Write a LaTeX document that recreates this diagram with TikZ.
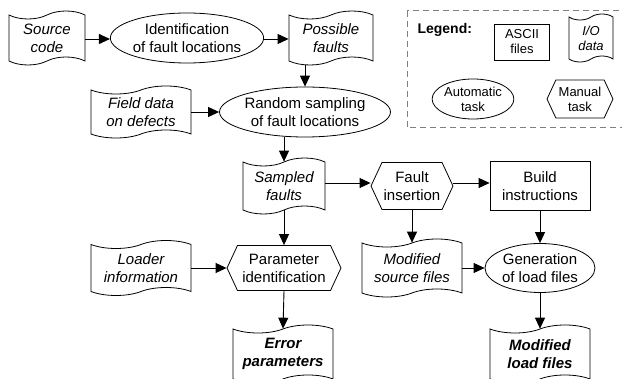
\documentclass[tikz,border=0pt]{standalone}
\usepackage{fontspec}
\setmainfont{Liberation Sans}
\usetikzlibrary{shapes.geometric,shapes.symbols,arrows.meta}
\begin{document}
\begin{tikzpicture}[x=1pt,y=-1pt,
  base/.style={draw, line width=0.8pt, align=center, inner sep=0pt, font=\fontsize{15}{18}\selectfont},
  doc/.style={base, tape, tape bend top=in and out, tape bend bottom=in and out, tape bend height=8pt, font=\fontsize{15}{18}\selectfont\itshape},
  outdoc/.style={doc, font=\fontsize{15}{18}\selectfont\bfseries\itshape},
  autotask/.style={base, ellipse},
  manualtask/.style={base, signal, signal to=west and east, signal from=nowhere, signal pointer angle=130},
  asciibox/.style={base, rectangle},
  legfont/.style={font=\fontsize{13}{15}\selectfont},
  arr/.style={-{Triangle[length=11pt,width=10pt]}, line width=0.9pt},
]
\useasboundingbox (0,0) rectangle (622,379);

% legend
\draw[gray, line width=1pt, dash pattern=on 6pt off 4pt] (407,11) rectangle (626,128);
\node[anchor=west, font=\fontsize{14}{16}\selectfont\bfseries] (leg) at (414,30) {Legend:};
\node[asciibox, legfont, minimum width=55pt, minimum height=36pt] (lascii) at (522,42) {ASCII\\files};
\node[doc, font=\fontsize{13}{15}\selectfont\itshape, tape bend height=6pt, minimum width=44pt, minimum height=48pt] (lio) at (591,38) {I/O\\data};
\node[autotask, legfont, minimum width=76pt, minimum height=40pt] (lauto) at (473,99) {Automatic\\task};
\node[manualtask, legfont, minimum width=66pt, minimum height=38pt] (lman) at (580,99) {Manual\\task};

% main flow
\node[doc, minimum width=76pt, minimum height=54pt] (src) at (47,38) {Source\\code};
\node[autotask, minimum width=148pt, minimum height=50pt] (ident) at (187,38) {Identification\\of fault locations};
\node[doc, minimum width=84pt, minimum height=54pt] (poss) at (331,38) {Possible\\faults};
\node[doc, minimum width=100pt, minimum height=52pt] (field) at (141,112) {Field data\\on defects};
\node[autotask, minimum width=156pt, minimum height=50pt] (rand) at (305,112) {Random sampling\\of fault locations};
\node[doc, minimum width=82pt, minimum height=56pt] (samp) at (284,186) {Sampled\\faults};
\node[manualtask, minimum width=82pt, minimum height=47pt] (fault) at (412,186) {Fault\\insertion};
\node[asciibox, minimum width=100pt, minimum height=49pt] (build) at (540,186) {Build\\instructions};
\node[manualtask, minimum width=114pt, minimum height=45pt] (param) at (284,268) {Parameter\\identification};
\node[doc, minimum width=100pt, minimum height=55pt] (loader) at (141,268) {Loader\\information};
\node[doc, minimum width=100pt, minimum height=58pt] (modsrc) at (412,268) {Modified\\source files};
\node[autotask, minimum width=110pt, minimum height=49pt] (gen) at (540,268) {Generation\\of load files};
\node[outdoc, minimum width=100pt, minimum height=58pt] (err) at (283,354) {Error\\parameters};
\node[outdoc, minimum width=100pt, minimum height=58pt] (modload) at (540,354) {Modified\\load files};

% connectors
\draw[arr] ([yshift=-1pt]src.east) -- ([yshift=-1pt]ident.west);
\draw[arr] ([yshift=-1pt]ident.east) -- ([yshift=-1pt]poss.west);
\draw[arr] ([yshift=-4pt]rand.north |- poss.south) -- (rand.north);
\draw[arr] (field.east) -- (rand.west);
\draw[arr] (samp.north |- rand.south) -- (samp.north);
\draw[arr] ([yshift=3pt]samp.east) -- ([yshift=3pt]fault.west);
\draw[arr] ([yshift=3pt]fault.east) -- ([yshift=3pt]build.west);
\draw[arr] (fault.south) -- (modsrc.north);
\draw[arr] (build.south) -- (gen.north);
\draw[arr] (modsrc.east) -- (gen.west);
\draw[arr] (gen.south) -- (modload.north);
\draw[arr] (samp.south) -- (param.north);
\draw[arr] (loader.east) -- (param.west);
\draw[arr] (param.south) -- (err.north);
\end{tikzpicture}
\end{document}
